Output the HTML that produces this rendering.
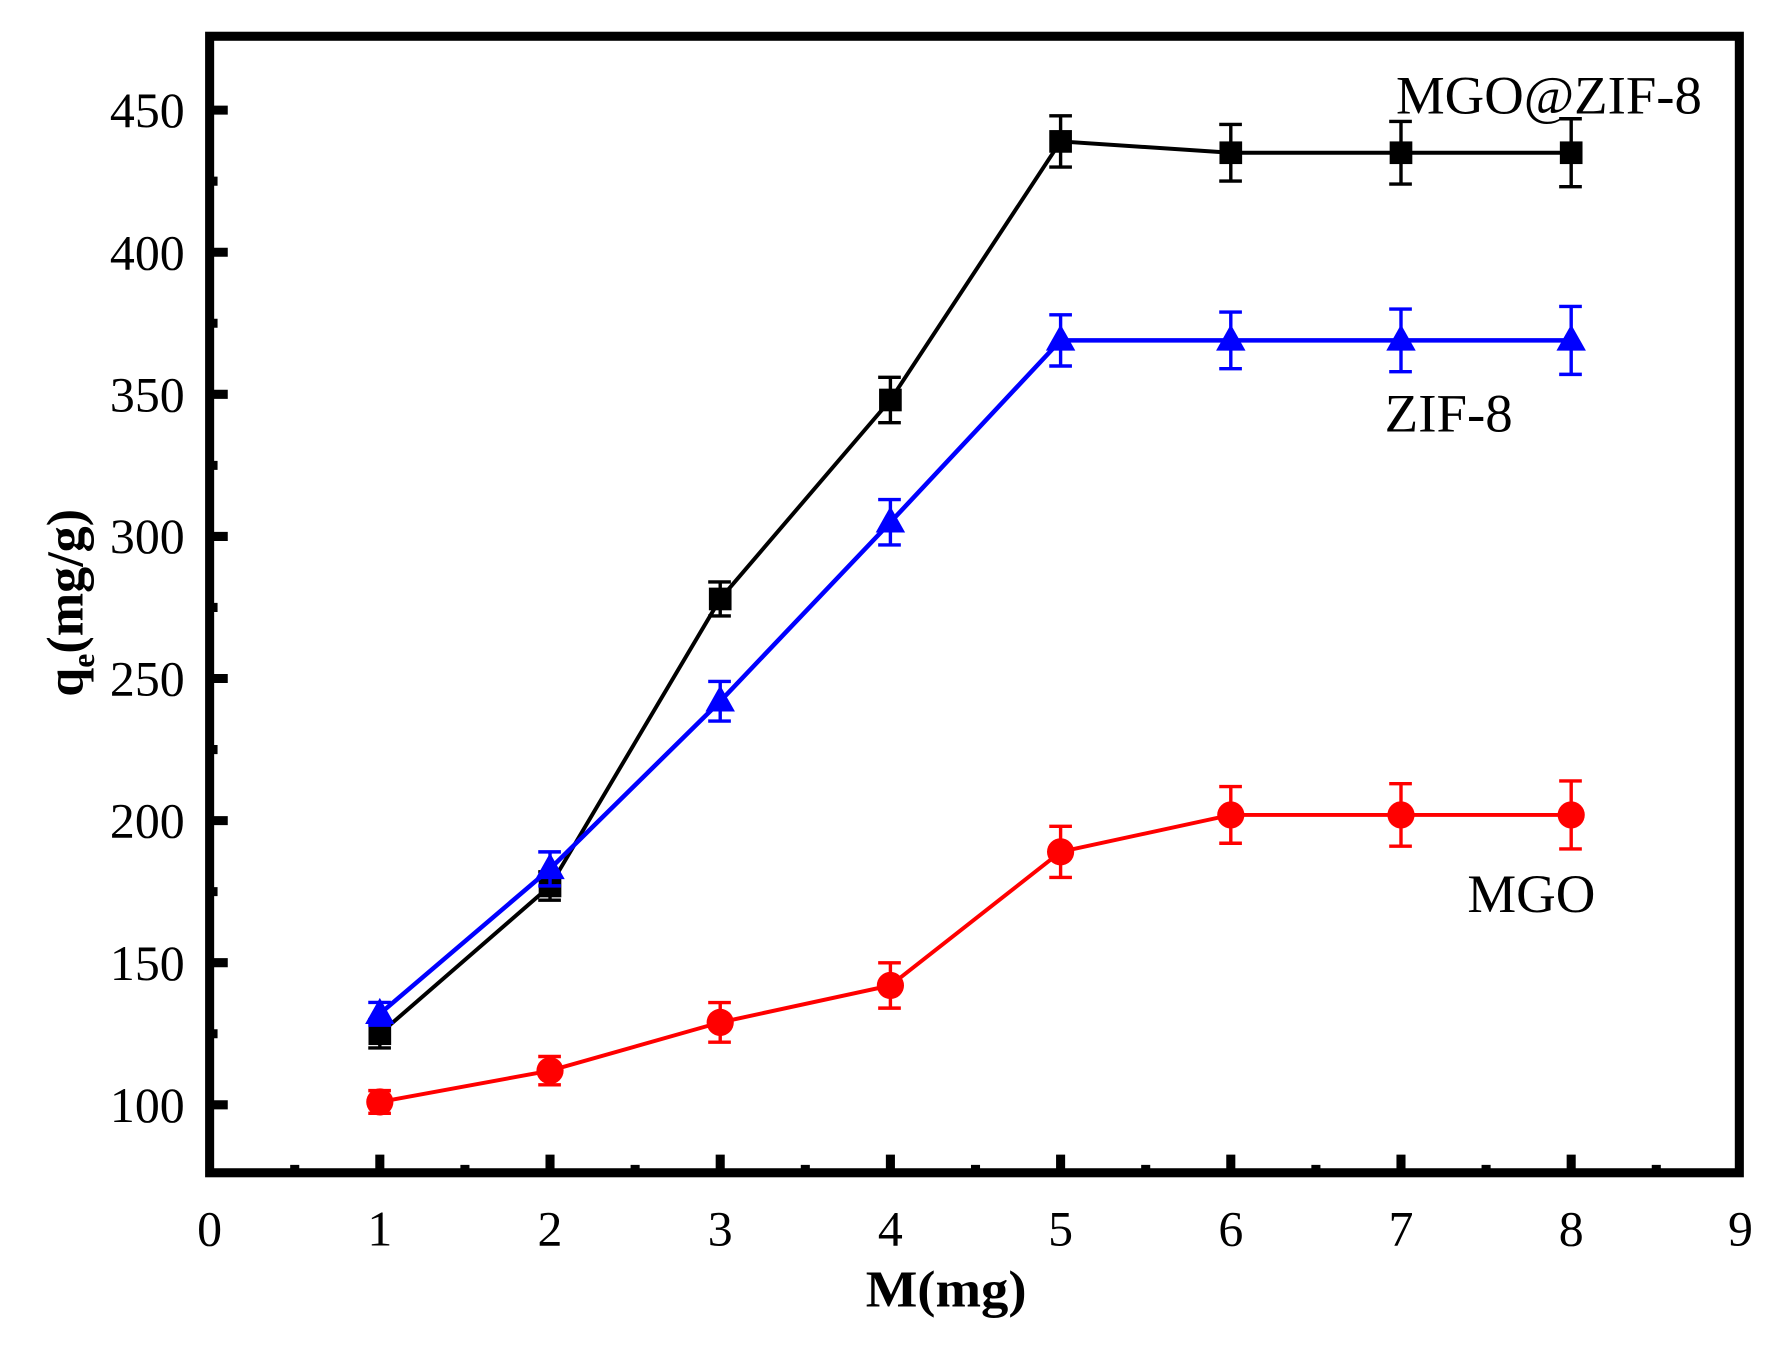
<!DOCTYPE html>
<html><head><style>html,body{margin:0;padding:0;background:#fff}svg{display:block}</style></head><body>
<svg width="1779" height="1345" viewBox="0 0 1570 1187" preserveAspectRatio="none" xmlns="http://www.w3.org/2000/svg" font-family="Liberation Serif, serif">
<rect x="185" y="32" width="1350" height="1003" fill="none" stroke="#000" stroke-width="8"/>
<g stroke="#000" stroke-width="8">
<path d="M335.2 1035v-16M485.4 1035v-16M635.6 1035v-16M785.8 1035v-16M936 1035v-16M1086.2 1035v-16M1236.4 1035v-16M1386.6 1035v-16"/>
<path d="M260.1 1035v-7M410.3 1035v-7M560.5 1035v-7M710.7 1035v-7M860.9 1035v-7M1011.1 1035v-7M1161.3 1035v-7M1311.5 1035v-7M1461.7 1035v-7"/>
<path d="M185 975h16M185 849.6h16M185 724.2h16M185 598.8h16M185 473.4h16M185 348h16M185 222.6h16M185 97.2h16"/>
<path d="M185 912.3h7M185 786.9h7M185 661.5h7M185 536.1h7M185 410.7h7M185 285.3h7M185 159.9h7"/>
</g>
<g font-size="44" text-anchor="end">
<text x="163" y="990" textLength="66" lengthAdjust="spacingAndGlyphs">100</text>
<text x="163" y="865" textLength="66" lengthAdjust="spacingAndGlyphs">150</text>
<text x="163" y="739" textLength="66" lengthAdjust="spacingAndGlyphs">200</text>
<text x="163" y="614" textLength="66" lengthAdjust="spacingAndGlyphs">250</text>
<text x="163" y="488" textLength="66" lengthAdjust="spacingAndGlyphs">300</text>
<text x="163" y="363" textLength="66" lengthAdjust="spacingAndGlyphs">350</text>
<text x="163" y="238" textLength="66" lengthAdjust="spacingAndGlyphs">400</text>
<text x="163" y="112" textLength="66" lengthAdjust="spacingAndGlyphs">450</text>
</g>
<g font-size="44" text-anchor="middle">
<text x="185" y="1099" textLength="22" lengthAdjust="spacingAndGlyphs">0</text><text x="335.2" y="1099" textLength="22" lengthAdjust="spacingAndGlyphs">1</text><text x="485.4" y="1099" textLength="22" lengthAdjust="spacingAndGlyphs">2</text><text x="635.6" y="1099" textLength="22" lengthAdjust="spacingAndGlyphs">3</text><text x="785.8" y="1099" textLength="22" lengthAdjust="spacingAndGlyphs">4</text><text x="936" y="1099" textLength="22" lengthAdjust="spacingAndGlyphs">5</text><text x="1086.2" y="1099" textLength="22" lengthAdjust="spacingAndGlyphs">6</text><text x="1236.4" y="1099" textLength="22" lengthAdjust="spacingAndGlyphs">7</text><text x="1386.6" y="1099" textLength="22" lengthAdjust="spacingAndGlyphs">8</text><text x="1536" y="1099" textLength="22" lengthAdjust="spacingAndGlyphs">9</text>
</g>
<text x="835" y="1153" font-size="46" font-weight="bold" text-anchor="middle" textLength="142" lengthAdjust="spacingAndGlyphs">M(mg)</text>
<text transform="translate(73,532) rotate(-90)" font-size="46" font-weight="bold" text-anchor="middle">q<tspan font-size="28" dy="10">e</tspan><tspan dy="-10">(mg/g)</tspan></text>
<text x="1232" y="100" font-size="48" textLength="270" lengthAdjust="spacingAndGlyphs">MGO@ZIF-8</text>
<text x="1222" y="381" font-size="48" textLength="113" lengthAdjust="spacingAndGlyphs">ZIF-8</text>
<text x="1295" y="805" font-size="48" textLength="113" lengthAdjust="spacingAndGlyphs">MGO</text>
<g stroke="#f00" stroke-width="3" fill="none">
<polyline stroke-width="3.5" points="335.2,972.5 485.4,944.9 635.6,902.3 785.8,869.7 936,751.8 1086.2,719.2 1236.4,719.2 1386.6,719.2"/>
<path d="M335.2 962.5v20M325 962.5h20M325 982.5h20
M485.4 932.4v25M475 932.4h20M475 957.4h20
M635.6 884.8v35M625 884.8h20M625 919.8h20
M785.8 849.7v40M775 849.7h20M775 889.7h20
M936 729.2v45.2M926 729.2h20M926 774.4h20
M1086.2 694.2v50M1076 694.2h20M1076 744.2h20
M1236.4 691.6v55.2M1226 691.6h20M1226 746.8h20
M1386.6 689.2v60M1376 689.2h20M1376 749.2h20"/>
</g>
<g fill="#f00">
<circle cx="335.2" cy="972.5" r="12"/><circle cx="485.4" cy="944.9" r="12"/><circle cx="635.6" cy="902.3" r="12"/><circle cx="785.8" cy="869.7" r="12"/><circle cx="936" cy="751.8" r="12"/><circle cx="1086.2" cy="719.2" r="12"/><circle cx="1236.4" cy="719.2" r="12"/><circle cx="1386.6" cy="719.2" r="12"/>
</g>
<g stroke="#000" stroke-width="3" fill="none">
<polyline stroke-width="3.5" points="335.2,912.3 485.4,781.9 635.6,528.6 785.8,353 936,124.8 1086.2,134.8 1236.4,134.8 1386.6,134.8"/>
<path d="M335.2 899.8v25M325 899.8h20M325 924.8h20
M485.4 769.4v25M475 769.4h20M475 794.4h20
M635.6 513.6v30M625 513.6h20M625 543.6h20
M785.8 333v40M775 333h20M775 373h20
M936 102.2v45.2M926 102.2h20M926 147.4h20
M1086.2 109.8v50M1076 109.8h20M1076 159.8h20
M1236.4 107.2v55.2M1226 107.2h20M1226 162.4h20
M1386.6 104.8v60M1376 104.8h20M1376 164.8h20"/>
</g>
<g fill="#000">
<rect x="325.2" y="902.3" width="20" height="20"/><rect x="475.4" y="771.9" width="20" height="20"/><rect x="625.6" y="518.6" width="20" height="20"/><rect x="775.8" y="343" width="20" height="20"/><rect x="926" y="114.8" width="20" height="20"/><rect x="1076.2" y="124.8" width="20" height="20"/><rect x="1226.4" y="124.8" width="20" height="20"/><rect x="1376.6" y="124.8" width="20" height="20"/>
</g>
<g stroke="#00f" stroke-width="3" fill="none">
<polyline stroke-width="4" points="335.2,894.7 485.4,766.8 635.6,618.9 785.8,460.9 936,300.4 1086.2,300.4 1236.4,300.4 1386.6,300.4"/>
<path d="M335.2 884.7v20M325 884.7h20M325 904.7h20
M485.4 751.8v30M475 751.8h20M475 781.8h20
M635.6 601.4v35M625 601.4h20M625 636.4h20
M785.8 440.9v40M775 440.9h20M775 480.9h20
M936 277.8v45.2M926 277.8h20M926 323h20
M1086.2 275.4v50M1076 275.4h20M1076 325.4h20
M1236.4 272.8v55.2M1226 272.8h20M1226 328h20
M1386.6 270.4v60M1376 270.4h20M1376 330.4h20"/>
</g>
<g fill="#00f">
<path d="M335.2 880.7l13 23h-26z"/><path d="M485.4 752.8l13 23h-26z"/><path d="M635.6 604.9l13 23h-26z"/><path d="M785.8 446.9l13 23h-26z"/><path d="M936 286.4l13 23h-26z"/><path d="M1086.2 286.4l13 23h-26z"/><path d="M1236.4 286.4l13 23h-26z"/><path d="M1386.6 286.4l13 23h-26z"/>
</g>
</svg>
</body></html>
